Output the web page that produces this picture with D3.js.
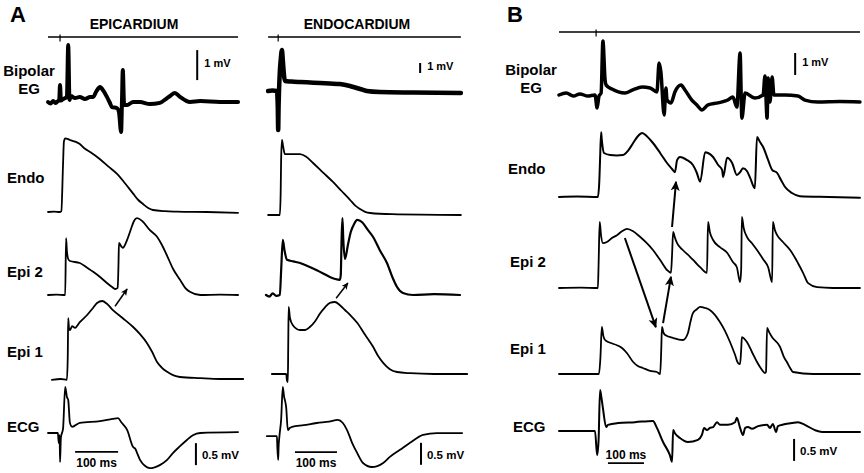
<!DOCTYPE html>
<html><head><meta charset="utf-8">
<script src="https://cdn.jsdelivr.net/npm/d3@7"></script>
<style>
html,body{margin:0;padding:0;background:#fff;}
svg{display:block;font-family:"Liberation Sans",Arial,Helvetica,sans-serif;font-weight:bold;}
</style></head><body>
<svg id="chart" width="864" height="473"></svg>
<script>
// ================= DATA (time in ms, values in mV) =================
// Panel A – Epicardium
const aEpiBipolar = [[0,0],[6,-0.05],[12,0.03],[18,-0.03],[23,0.03],[26,0.05],[28,0.57],[30,0.05],[35,0.1],[40,0.13],[44,0.17],[47,1.9],[50,0.07],[53,0.2],[63,0.13],[74,0.17],[86,0.1],[98,0.17],[105,0.17],[113,0.37],[121,0.5],[129,0.37],[137,0.17],[143,0],[149,-0.17],[160,-0.2],[165,-0.33],[170,-1.0],[172,0],[174,1.07],[177,-0.1],[184,-0.1],[198,0],[214,0],[237,-0.07],[260,-0.03],[277,0.13],[284,0.2],[295,0.3],[307,0.17],[330,0],[354,0.03],[400,0],[442,0]];
const aEpiEndo = [[0,0],[14,0.5],[28,0],[31,1],[35,60],[37,88],[40,92],[47,91],[51,90],[63,88],[74,85],[86,79],[98,75],[121,66],[140,57],[160,48],[179,36],[198,23],[210,15],[221,10],[233,5],[244,2.5],[272,1],[300,0.5],[370,0],[442,-1]];
const aEpiEpi2 = [[0,0],[20,0.5],[40,0],[42,71],[44,55],[47,45],[51,42.5],[74,40],[91,34],[105,29],[121,22.5],[137,15],[149,10],[156,7.5],[162,9],[164,40],[165,65],[170,61],[174,59],[184,69],[193,82.5],[200,92.5],[207,96],[219,92.5],[237,81],[254,72.5],[265,62.5],[277,49],[291,32.5],[307,19],[319,9],[330,4],[354,0],[400,0.5],[442,0]];
const aEpiEpi1 = [[9,-1],[30,0],[44,-1],[46,30],[47,76],[49,63],[51,61],[56,66],[63,64],[74,71],[91,80],[105,89],[114,95],[126,97.5],[137,94],[151,86],[174,76],[198,65],[214,56],[230,45],[242,34],[254,21],[265,14],[277,9],[307,2.5],[354,1],[400,0],[454,0]];
const aEpiEcg = [[0,0],[23,0],[25,-0.23],[27,-0.05],[28,-0.66],[30,-0.1],[35,0.1],[40,1.05],[44,0.82],[47,0.75],[51,0.23],[56,0.14],[74,0.23],[121,0.27],[150,0.32],[163,0.34],[170,0.25],[184,0.07],[198,-0.32],[203,-0.36],[207,-0.45],[214,-0.61],[226,-0.75],[237,-0.8],[248,-0.78],[260,-0.73],[277,-0.61],[291,-0.45],[307,-0.3],[323,-0.16],[337,-0.05],[354,0],[442,0.02]];

// Panel A – Endocardium
const aEndoBipolar = [[5,0],[15,0.05],[26,0],[28,-1.5],[29,-3.9],[30,-1.5],[31,0],[33,2],[35,3.1],[38,4.1],[40,3.1],[43,1.5],[45,1.0],[60,0.95],[81,0.9],[105,0.85],[129,0.8],[152,0.75],[176,0.7],[200,0.5],[212,0.35],[224,0.2],[240,0],[271,-0.1],[350,-0.15],[464,-0.2]];
const aEndoEndo = [[5,0],[20,0],[33,0],[35,30],[36,69],[38,94],[41,85],[45,76],[60,76],[81,76],[95,73],[112,65],[136,53],[160,41],[180,30],[200,19],[212,12],[224,7.5],[236,4],[248,2.5],[300,1],[464,0]];
const aEndoEpi2 = [[0,0],[8,-2],[16,2],[24,-1],[33,0],[36,30],[40,69],[44,56],[50,44],[65,42],[81,40],[100,36],[121,31],[136,27],[152,22.5],[165,20],[176,19],[178,25],[180,70],[182,96],[184,70],[188,45],[195,62.5],[202,79],[210,89],[217,94],[229,91],[243,81],[255,72.5],[271,56],[288,40],[302,21],[312,10],[326,2.5],[350,0],[400,1],[462,0]];
const aEndoEpi1 = [[14,0],[30,0],[48,0],[50,-8],[52,-10],[53,40],[54,84],[57,70],[64,61],[81,55],[93,55],[105,59],[117,66],[129,76],[140,83],[152,89],[164,90],[176,86],[188,80],[200,74],[217,64],[236,49],[255,34],[267,22.5],[279,14],[295,6],[312,2.5],[343,1],[400,0],[479,0]];
const aEndoEcg = [[2,-0.05],[26,-0.05],[27,-0.3],[29,-0.59],[30,-0.3],[32,-0.05],[36,0.32],[40,1.07],[43,0.85],[45,0.77],[48,0.61],[52,0.09],[57,0.14],[62,0.16],[90,0.2],[121,0.25],[150,0.28],[171,0.32],[183,0.25],[193,0.09],[205,-0.2],[217,-0.43],[231,-0.66],[252,-0.75],[265,-0.73],[279,-0.66],[295,-0.52],[319,-0.36],[343,-0.2],[374,-0.02],[407,0.02],[467,0.02]];

// Panel B
const bBipolar = [[0,0],[20,0.09],[40,-0.05],[58,0.05],[80,-0.05],[100,0],[106,-0.59],[111,-0.05],[117,0.09],[122,2.45],[128,0.68],[131,0.45],[147,0.27],[165,0.14],[183,0.09],[205,0.23],[231,0.36],[253,0.32],[272,0.14],[278,1.45],[283,1.05],[292,-0.91],[297,0.32],[300,-0.23],[311,-0.36],[322,0.14],[339,0.45],[350,0.23],[369,-0.23],[383,-0.45],[397,-0.68],[414,-0.45],[442,-0.36],[469,-0.23],[483,-0.09],[494,-0.55],[503,1.91],[508,-1.05],[517,0.09],[544,-0.14],[567,0],[572,0.86],[578,-1.05],[581,0.77],[586,-0.32],[592,0.82],[597,0],[628,0],[664,-0.05],[683,-0.23],[719,-0.32],[780,-0.3],[836,-0.32]];
const bEndo = [[0,0],[50,0.5],[108,0],[112,20],[114,46],[117,81],[119,71],[125,55],[142,52.5],[160,52],[178,52.5],[192,58],[206,67.5],[219,76],[231,80],[244,76],[261,67.5],[281,55],[300,42.5],[314,35],[322,31],[328,46],[336,50],[356,46],[372,40],[383,30],[392,19],[406,56],[414,55],[428,50],[442,40],[453,34],[456,25],[467,49],[481,42.5],[494,27.5],[503,31],[511,36],[522,32.5],[531,24],[544,11],[550,75],[558,69],[567,62.5],[581,46],[592,34],[606,30],[617,21],[628,12.5],[647,5],[669,1],[750,0],[836,-1]];
const bEpi2 = [[0,0],[60,0.5],[108,0],[110,30],[113,82.5],[117,65],[122,56],[133,57.5],[147,62.5],[161,66],[175,71],[189,74],[206,71],[225,64],[244,56],[261,47.5],[281,35],[300,22.5],[311,19],[314,41],[317,70],[322,63],[328,56],[344,47.5],[364,39],[378,32.5],[392,26],[411,19],[414,82.5],[419,70],[428,60],[447,51],[467,44],[483,32.5],[494,26],[503,7.5],[506,22.5],[508,89],[513,75],[522,64],[536,56],[550,47.5],[567,36],[581,26],[592,7.5],[594,82.5],[600,72],[606,66],[622,57.5],[642,47.5],[656,37.5],[664,31],[678,19],[692,6],[717,1],[760,0],[836,0]];
const bEpi1 = [[0,0],[60,0],[111,0],[115,20],[119,59],[123,48],[128,42.5],[142,39],[161,36],[175,32.5],[189,26],[206,15],[219,10],[233,7.5],[253,4],[272,2.5],[281,0],[284,30],[286,59],[290,52],[294,49],[317,45],[344,42.5],[358,51],[365,65],[372,76],[383,81],[392,84],[406,82.5],[419,80],[433,74],[447,65],[461,54],[475,40],[489,24],[497,14],[503,12.5],[506,30],[508,46],[515,44],[522,40],[536,27.5],[550,15],[564,5],[572,1],[575,2.5],[578,57.5],[584,52],[592,46],[614,34],[625,21],[633,15],[642,7.5],[650,2.5],[706,0],[836,0]];
const bEcg = [[0,0],[100,0],[106,-0.55],[110,-0.2],[114,0.93],[118,0.75],[122,0.52],[131,0.09],[136,0.14],[164,0.18],[211,0.2],[261,0.23],[272,0.07],[289,-0.25],[308,-0.55],[314,-0.7],[317,0.02],[322,-0.05],[336,-0.16],[358,-0.25],[386,-0.2],[397,-0.09],[403,0.07],[411,0.02],[419,0.07],[428,0.09],[439,0.2],[447,0.14],[469,0.14],[489,0.2],[494,0.3],[503,0.07],[511,-0.09],[517,0.07],[525,0.09],[536,0.05],[553,0.11],[578,0.14],[586,0.07],[594,0.16],[603,-0.02],[608,0.11],[647,0.18],[664,0.2],[683,0.14],[711,0.02],[731,-0.02],[836,-0.02]];

// Labels
const rowKeys = ["bip","endo","epi2","epi1","ecg"];
const rowLabels = {bip:["Bipolar","EG"], endo:["Endo"], epi2:["Epi 2"], epi1:["Epi 1"], ecg:["ECG"]};
const panelTitles = ["EPICARDIUM","ENDOCARDIUM"];
const panelLetters = ["A","B"];
const mvLabel = "1 mV", ecgLabel = "0.5 mV", msLabel = "100 ms";

// ================= LAYOUT =================
const panels = [
  {x0:48, pxPerMs:0.43, lineT:[0,442], stimT:28, topY:37,
   rows:{bip:[102,30], endo:[212,0.8], epi2:[295,0.8], epi1:[379,0.8], ecg:[433,44]},
   series:{bip:aEpiBipolar, endo:aEpiEndo, epi2:aEpiEpi2, epi1:aEpiEpi1, ecg:aEpiEcg},
   widths:{bip:4, endo:1.8, epi2:1.8, epi1:1.8, ecg:1.8},
   mvBar:{t:347, v0:0.73}, ecgBar:{t:344, v0:-0.73}, msBar:{t0:63, v:-0.43, textDy:15},
   arrows:[{row:"epi2", from:[156,-14], to:[184,7.5], head:"headA", w:1.5}],
   title:{text:panelTitles[0], x:134, y:29},
   letter:{text:panelLetters[0], x:10, y:22},
   labels:{bip:[29,76,94], endo:[7,183], epi2:[7,277], epi1:[7,357], ecg:[7,432]}},
  {x0:266, pxPerMs:0.42, lineT:[5,464], stimT:29, topY:37,
   rows:{bip:[91,10], endo:[215,0.8], epi2:[295,0.8], epi1:[374,0.8], ecg:[434,44]},
   series:{bip:aEndoBipolar, endo:aEndoEndo, epi2:aEndoEpi2, epi1:aEndoEpi1, ecg:aEndoEcg},
   widths:{bip:4.5, endo:1.8, epi2:2.2, epi1:1.8, ecg:1.8},
   mvBar:{t:367, v0:1.8}, ecgBar:{t:369, v0:-0.7}, msBar:{t0:69, v:-0.41, textDy:15},
   arrows:[{row:"epi2", from:[167,-4], to:[195,15], head:"headA", w:1.5}],
   title:{text:panelTitles[1], x:357, y:29},
   letter:null, labels:null},
  {x0:559, pxPerMs:0.36, lineT:[0,836], stimT:103, topY:32,
   rows:{bip:[95,22], endo:[197,0.8], epi2:[288,0.8], epi1:[374,0.8], ecg:[431,44]},
   series:{bip:bBipolar, endo:bEndo, epi2:bEpi2, epi1:bEpi1, ecg:bEcg},
   widths:{bip:3.5, endo:2, epi2:1.8, epi1:1.8, ecg:2},
   mvBar:{t:656, v0:0.91}, ecgBar:{t:653, v0:-0.68}, msBar:{t0:136, v:-0.73, textDy:-4},
   arrows:[{row:"epi2", from:[183,62.5], to:[269,-49], head:"headB", w:2},
           {row:"epi2", from:[289,-44], to:[311,14], head:"headB", w:2},
           {row:"endo", from:[314,-37.5], to:[325,19], head:"headB", w:2}],
   title:null,
   letter:{text:panelLetters[1], x:507, y:22},
   labels:{bip:[531,75,93], endo:[508,174], epi2:[510,267], epi1:[510,354], ecg:[513,432]}}
];

// ================= DRAW =================
const ink = "#000";
const svg = d3.select("#chart");
svg.append("rect").attr("width",864).attr("height",473).attr("fill","#fff");
const defs = svg.append("defs");
function marker(id, size){
  defs.append("marker").attr("id",id).attr("viewBox","0 0 10 10")
    .attr("refX",9).attr("refY",5).attr("markerWidth",size).attr("markerHeight",size)
    .attr("markerUnits","userSpaceOnUse").attr("orient","auto")
    .append("path").attr("d","M0,0.5 L10,5 L0,9.5 L2.5,5 Z").attr("fill",ink);
}
marker("headA",7); marker("headB",10);

panels.forEach(p => {
  const x = d3.scaleLinear().domain([0,1000]).range([p.x0, p.x0 + 1000*p.pxPerMs]);
  const y = {};
  Object.entries(p.rows).forEach(([k,[base,gain]]) => {
    y[k] = d3.scaleLinear().domain([0,1]).range([base, base-gain]);
  });
  const g = svg.append("g");

  // time line with stimulus marker
  g.append("line").attr("x1",x(p.lineT[0])).attr("x2",x(p.lineT[1]))
    .attr("y1",p.topY).attr("y2",p.topY).attr("stroke",ink).attr("stroke-width",1.4);
  g.append("line").attr("x1",x(p.stimT)).attr("x2",x(p.stimT))
    .attr("y1",p.topY-2.5).attr("y2",p.topY+4.5).attr("stroke",ink).attr("stroke-width",1.2);

  // traces
  rowKeys.forEach(k => {
    const line = d3.line().x(d => x(d[0])).y(d => y[k](d[1])).curve(d3.curveMonotoneX);
    g.append("path").attr("d", line(p.series[k])).attr("fill","none")
      .attr("stroke",ink).attr("stroke-width",p.widths[k])
      .attr("stroke-linejoin","round").attr("stroke-linecap","round");
  });

  // 1 mV bar
  const mvx = x(p.mvBar.t);
  const mvTop = y.bip(p.mvBar.v0+1), mvBot = y.bip(p.mvBar.v0);
  g.append("line").attr("x1",mvx).attr("x2",mvx).attr("y1",mvTop).attr("y2",mvBot)
    .attr("stroke",ink).attr("stroke-width",2);
  g.append("text").attr("x",mvx+7).attr("y",(mvTop+mvBot)/2+2).attr("font-size",11)
    .attr("fill",ink).text(mvLabel);

  // 0.5 mV bar
  const ex = x(p.ecgBar.t);
  const eTop = y.ecg(p.ecgBar.v0+0.5), eBot = y.ecg(p.ecgBar.v0);
  g.append("line").attr("x1",ex).attr("x2",ex).attr("y1",eTop).attr("y2",eBot)
    .attr("stroke",ink).attr("stroke-width",2);
  g.append("text").attr("x",ex+6).attr("y",(eTop+eBot)/2+5).attr("font-size",11.5)
    .attr("fill",ink).text(ecgLabel);

  // 100 ms bar
  const mx0 = x(p.msBar.t0), mx1 = x(p.msBar.t0+100), my = y.ecg(p.msBar.v);
  g.append("line").attr("x1",mx0).attr("x2",mx1).attr("y1",my).attr("y2",my)
    .attr("stroke",ink).attr("stroke-width",1.8);
  g.append("text").attr("x",(mx0+mx1)/2).attr("y",my+p.msBar.textDy).attr("font-size",12)
    .attr("text-anchor","middle").attr("fill",ink).text(msLabel);

  // arrows
  p.arrows.forEach(a => {
    g.append("line").attr("x1",x(a.from[0])).attr("y1",y[a.row](a.from[1]))
      .attr("x2",x(a.to[0])).attr("y2",y[a.row](a.to[1]))
      .attr("stroke",ink).attr("stroke-width",a.w).attr("marker-end",`url(#${a.head})`);
  });

  // titles, letters, row labels
  if (p.title) g.append("text").attr("x",p.title.x).attr("y",p.title.y).attr("text-anchor","middle")
    .attr("font-size",14).attr("fill",ink).text(p.title.text);
  if (p.letter) g.append("text").attr("x",p.letter.x).attr("y",p.letter.y)
    .attr("font-size",22).attr("fill",ink).text(p.letter.text);
  if (p.labels) {
    rowKeys.forEach(k => {
      const L = p.labels[k], txt = rowLabels[k];
      if (txt.length === 2) {
        g.append("text").attr("x",L[0]).attr("y",L[1]).attr("text-anchor","middle")
          .attr("font-size",15).attr("fill",ink).text(txt[0]);
        g.append("text").attr("x",L[0]).attr("y",L[2]).attr("text-anchor","middle")
          .attr("font-size",15).attr("fill",ink).text(txt[1]);
      } else {
        g.append("text").attr("x",L[0]).attr("y",L[1])
          .attr("font-size",15).attr("fill",ink).text(txt[0]);
      }
    });
  }
});
</script>
</body></html>
